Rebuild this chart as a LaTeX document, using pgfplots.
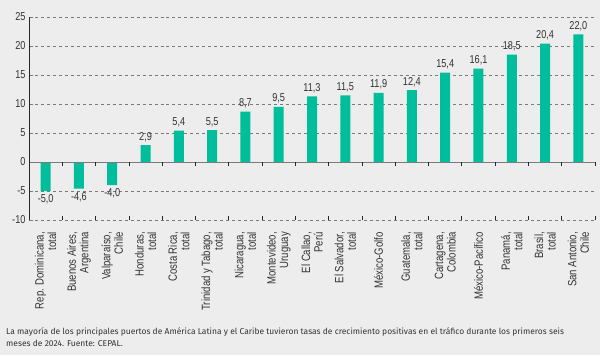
\documentclass[border=0pt]{standalone}
\usepackage{fontspec}
\usepackage{pgfplots}
\pgfplotsset{compat=1.18}
\setmainfont{Liberation Sans}
\newfontfamily\cond{Liberation Sans}[FakeStretch=0.8]
\newfontfamily\capfont{Fira Sans}
\definecolor{bg}{HTML}{EDEDED}
\definecolor{bar}{HTML}{00BE9B}
\definecolor{gridc}{HTML}{7A7A7A}
\definecolor{txt}{HTML}{333333}
\begin{document}
\begin{tikzpicture}[x=1bp,y=1bp]
\fill[bg] (0,0) rectangle (600,355);
\begin{axis}[
  at={(29bp,135bp)}, anchor=south west,
  scale only axis, width=566bp, height=203bp,
  xmin=-0.5, xmax=16.5, ymin=-10, ymax=25,
  axis line style={draw=none},
  ytick={-10,-5,...,25},
  ymajorgrids, grid style={gridc, dashed, line width=0.5pt},
  major tick length=4bp,
  ytick style={gridc, line width=0.5pt},
  tick pos=left,
  xtick={0,...,16},
  xtick style={draw=none},
  xticklabels={{Rep. Dominicana,\\total},{Buenos Aires,\\Argentina},{Valparaíso,\\Chile},{Honduras,\\total},{Costa Rica,\\total},{Trinidad y Tabago,\\total},{Nicaragua,\\total},{Montevideo,\\Uruguay},{El Callao,\\Perú},{El Salvador,\\total},{México-Golfo},{Guatemala,\\total},{Cartagena,\\Colombia},{México-Pacífico},{Panamá,\\total},{Brasil,\\total},{San Antonio,\\Chile}},
  xticklabel style={rotate=90, anchor=east, align=right, font=\cond\fontsize{12}{12.5}\selectfont, text=txt, inner sep=0pt},
  xticklabel shift=8bp,
  yticklabel style={font=\cond\fontsize{11.5}{13}\selectfont, text=txt},
  /pgf/number format/assume math mode=true,
  ybar, bar width=10bp,
  nodes near coords,
  nodes near coords align={vertical},
  every node near coord/.append style={font=\cond\fontsize{11.5}{13}\selectfont, text=txt, /pgf/number format/.cd, fixed, fixed zerofill, precision=1, use comma, assume math mode=true},
  clip=false,
]
\addplot[fill=bar, draw=none] coordinates {
(0,-5.0) (1,-4.6) (2,-4.0) (3,2.9) (4,5.4) (5,5.5) (6,8.7) (7,9.5) (8,11.3)
(9,11.5) (10,11.9) (11,12.4) (12,15.4) (13,16.1) (14,18.5) (15,20.4) (16,22.0)};
\draw[gridc, line width=0.8pt] (axis cs:-0.5,0) -- (axis cs:16.5,0);
\draw[black!85, line width=0.9pt] (axis cs:-0.5,-10) -- (axis cs:-0.5,25);
\pgfplotsinvokeforeach{0,...,16}{
  \draw[black!85, line width=0.7pt] (axis cs:#1+0.5,0) -- ([yshift=-4bp]axis cs:#1+0.5,0);
  \draw[black!85, line width=0.7pt] (axis cs:#1+0.5,-10) -- ([yshift=4bp]axis cs:#1+0.5,-10);
}
\end{axis}
\node[anchor=north west, align=left, inner sep=0pt, text=txt, font=\capfont\fontsize{8.5}{12}\selectfont] at (6,27) {La mayoría de los principales puertos de América Latina y el Caribe tuvieron tasas de crecimiento positivas en el tráfico durante los primeros seis\\meses de 2024. Fuente: CEPAL.};
\end{tikzpicture}
\end{document}
